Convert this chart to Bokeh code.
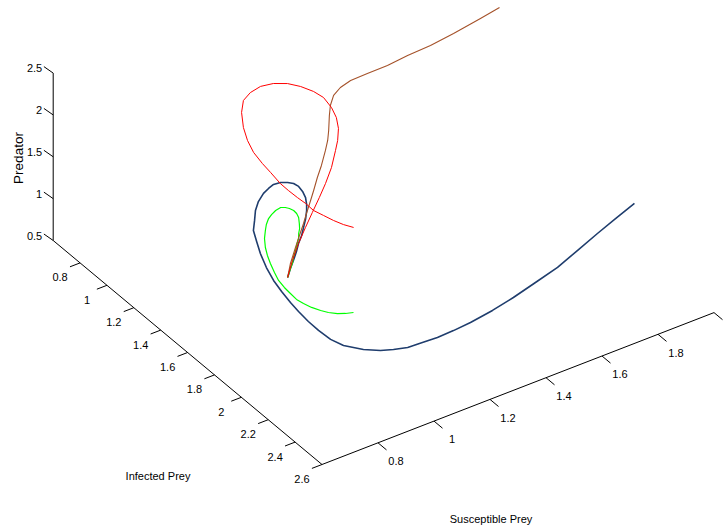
import numpy as np
from bokeh.plotting import figure
from bokeh.models import Range1d, Label
from bokeh.embed import file_html
from bokeh.resources import INLINE
from bokeh.core.properties import value

# ---------------- data: (Susceptible prey, Infected prey, Predator) trajectories ----------------
brown_S = [1.929,1.860,1.763,1.681,1.606,1.535,1.470,1.416,1.378,1.348,1.323,1.306,1.280,1.263,1.243,1.209,1.181,1.151,1.129,1.098,1.074,1.046,1.016,0.974,0.941]
brown_I = [1.152,1.154,1.156,1.155,1.141,1.139,1.125,1.113,1.116,1.128,1.156,1.184,1.233,1.261,1.286,1.327,1.355,1.390,1.413,1.447,1.475,1.503,1.536,1.586,1.634]
brown_P = [2.30,2.26,2.21,2.17,2.13,2.10,2.07,2.04,2.01,1.97,1.92,1.86,1.78,1.72,1.66,1.58,1.51,1.44,1.38,1.31,1.26,1.19,1.13,1.06,1.00]

red_S = [1.297,1.271,1.249,1.227,1.205,1.194,1.179,1.163,1.149,1.138,1.127,1.116,1.114,1.120,1.135,1.155,1.178,1.206,1.236,1.263,1.284,1.301,1.310,1.305,1.295,1.278,1.253,1.231,1.193,1.154,1.120,1.081,1.045,1.008,0.973,0.941]
red_I = [1.383,1.362,1.334,1.305,1.277,1.241,1.211,1.177,1.146,1.097,1.059,1.016,0.975,0.932,0.887,0.859,0.863,0.880,0.913,0.962,1.016,1.077,1.132,1.202,1.259,1.310,1.356,1.386,1.435,1.472,1.497,1.526,1.550,1.575,1.603,1.634]
red_P = [0.80,0.84,0.88,0.93,0.98,1.03,1.08,1.14,1.20,1.28,1.35,1.44,1.53,1.62,1.72,1.80,1.87,1.93,1.97,2.00,2.01,2.01,2.00,1.98,1.95,1.91,1.86,1.81,1.72,1.63,1.54,1.45,1.35,1.24,1.12,1.00]

navy_S = [1.954,1.871,1.793,1.704,1.616,1.528,1.440,1.361,1.282,1.224,1.172,1.128,1.085,1.052,1.022,0.986,0.949,0.933,0.925,0.919,0.917,0.916,0.917,0.920,0.928,0.942,0.956,0.968,0.988,1.007,1.028,1.052,1.069,1.083,1.096,1.106,1.113,1.114,1.109,1.101,1.088,1.078,1.062,1.043,1.027,1.008,0.994,0.975,0.959,0.941]
navy_I = [2.104,2.136,2.164,2.200,2.236,2.255,2.274,2.283,2.284,2.278,2.267,2.247,2.227,2.190,2.156,2.104,2.033,1.970,1.897,1.834,1.765,1.707,1.639,1.573,1.503,1.429,1.372,1.323,1.290,1.257,1.235,1.223,1.225,1.233,1.258,1.290,1.320,1.355,1.395,1.434,1.469,1.490,1.516,1.540,1.559,1.575,1.589,1.606,1.617,1.634]
navy_P = [1.20,1.17,1.13,1.09,1.05,1.01,0.97,0.93,0.89,0.86,0.83,0.80,0.77,0.74,0.72,0.71,0.71,0.72,0.74,0.77,0.80,0.83,0.87,0.91,0.96,1.01,1.06,1.11,1.16,1.21,1.26,1.31,1.35,1.39,1.43,1.46,1.48,1.49,1.49,1.48,1.46,1.43,1.39,1.34,1.29,1.24,1.18,1.12,1.06,1.00]

green_S = [1.048,1.023,1.001,0.977,0.959,0.941,0.928,0.918,0.913,0.911,0.910,0.916,0.925,0.934,0.945,0.962,0.980,0.995,1.013,1.027,1.044,1.060,1.069,1.076,1.083,1.084,1.082,1.071,1.062,1.050,1.040,1.022,1.010,0.995,0.982,0.967,0.941]
green_I = [1.901,1.893,1.880,1.862,1.842,1.812,1.779,1.748,1.713,1.672,1.631,1.588,1.539,1.498,1.460,1.418,1.387,1.363,1.342,1.335,1.330,1.334,1.350,1.366,1.383,1.403,1.422,1.450,1.471,1.489,1.509,1.532,1.549,1.566,1.585,1.601,1.634]
green_P = [0.80,0.81,0.82,0.84,0.86,0.88,0.90,0.92,0.95,0.97,1.00,1.03,1.06,1.09,1.12,1.15,1.18,1.20,1.22,1.24,1.26,1.28,1.29,1.29,1.28,1.27,1.25,1.23,1.21,1.19,1.17,1.14,1.12,1.09,1.06,1.03,1.00]

# axis limits and ticks
S_LIM = [0.6, 2.0]
I_LIM = [0.6, 2.6]
P_LIM = [0.5, 2.5]
S_TICKS = [0.8, 1.0, 1.2, 1.4, 1.6, 1.8, 2.0]
S_TICK_LABELS = ["0.8", "1", "1.2", "1.4", "1.6", "1.8", ""]
I_TICKS = [0.8, 1.0, 1.2, 1.4, 1.6, 1.8, 2.0, 2.2, 2.4, 2.6]
I_TICK_LABELS = ["0.8", "1", "1.2", "1.4", "1.6", "1.8", "2", "2.2", "2.4", "2.6"]
P_TICKS = [0.5, 1.0, 1.5, 2.0, 2.5]
P_TICK_LABELS = ["0.5", "1", "1.5", "2", "2.5"]

# ---------------- view (orthographic projection, screen units) ----------------
W, H = 725, 529
ORIGIN = (52.7, 289.0)
VS = (280.0, 108.5)
VI = (134.4, -112.0)
VP = (0.0, 83.7)

def proj(S, I, P):
    S = np.asarray(S, float); I = np.asarray(I, float); P = np.asarray(P, float)
    x = ORIGIN[0] + VS[0]*(S - S_LIM[0]) + VI[0]*(I - I_LIM[0]) + VP[0]*(P - P_LIM[0])
    y = ORIGIN[1] + VS[1]*(S - S_LIM[0]) + VI[1]*(I - I_LIM[0]) + VP[1]*(P - P_LIM[0])
    return x, y

p = figure(width=W, height=H, x_range=Range1d(0, W), y_range=Range1d(0, H),
           output_backend="svg", toolbar_location=None, min_border=0,
           x_axis_location=None, y_axis_location=None)
p.grid.visible = False
p.outline_line_color = None
p.background_fill_color = "white"
p.border_fill_color = "white"

FONT = "Liberation Sans"
FS = "11px"
AX = "#000000"

# axis lines
ax, ay = proj([S_LIM[0], S_LIM[0]], [I_LIM[0], I_LIM[0]], P_LIM)
p.line(ax, ay, line_color=AX, line_width=1)
ax, ay = proj([S_LIM[0], S_LIM[0]], I_LIM, [P_LIM[0], P_LIM[0]])
p.line(ax, ay, line_color=AX, line_width=1)
ax, ay = proj(S_LIM, [I_LIM[1], I_LIM[1]], [P_LIM[0], P_LIM[0]])
p.line(ax, ay, line_color=AX, line_width=1)

# predator ticks
n = len(P_TICKS)
tx, ty = proj([S_LIM[0]]*n, [I_LIM[0]]*n, P_TICKS)
p.segment(tx, ty, tx - 9.3, ty + 6.5, line_color=AX, line_width=1)
p.text(tx - 11.0, ty + 5.0, text=P_TICK_LABELS, text_align="right", text_baseline="middle",
       text_font=value(FONT), text_font_size=FS, text_color=AX)

# infected ticks
n = len(I_TICKS)
tx, ty = proj([S_LIM[0]]*n, I_TICKS, [P_LIM[0]]*n)
p.segment(tx, ty, tx - 10.1, ty - 3.9, line_color=AX, line_width=1)
p.text(tx - 20.0, ty - 14.5, text=I_TICK_LABELS, text_align="center", text_baseline="middle",
       text_font=value(FONT), text_font_size=FS, text_color=AX)

# susceptible ticks
n = len(S_TICKS)
tx, ty = proj(S_TICKS, [I_LIM[1]]*n, [P_LIM[0]]*n)
p.segment(tx, ty, tx + 8.5, ty - 7.1, line_color=AX, line_width=1)
p.text(tx + 18.0, ty - 18.3, text=S_TICK_LABELS, text_align="center", text_baseline="middle",
       text_font=value(FONT), text_font_size=FS, text_color=AX)

# axis titles
p.add_layout(Label(x=17.5, y=H - 157.5, text="Predator", angle=np.pi/2, text_align="center",
                   text_baseline="middle", text_font=FONT, text_font_size="13.5px",
                   text_color=AX))
p.add_layout(Label(x=157.5, y=H - 475.5, text="Infected Prey", text_align="center",
                   text_baseline="middle", text_font=FONT, text_font_size=FS, text_color=AX))
p.add_layout(Label(x=490.5, y=H - 518.5, text="Susceptible Prey", text_align="center",
                   text_baseline="middle", text_font=FONT, text_font_size=FS, text_color=AX))

# trajectories
for S, I, P, col, lw in [(navy_S, navy_I, navy_P, "#1f3d6d", 1.6),
                         (green_S, green_I, green_P, "#00ff00", 1.2),
                         (brown_S, brown_I, brown_P, "#a5522a", 1.1),
                         (red_S, red_I, red_P, "#ff0000", 1.0)]:
    x, y = proj(S, I, P)
    p.line(x, y, line_color=col, line_width=lw, line_join="round")

open("out.html", "w").write(file_html(p, INLINE))
